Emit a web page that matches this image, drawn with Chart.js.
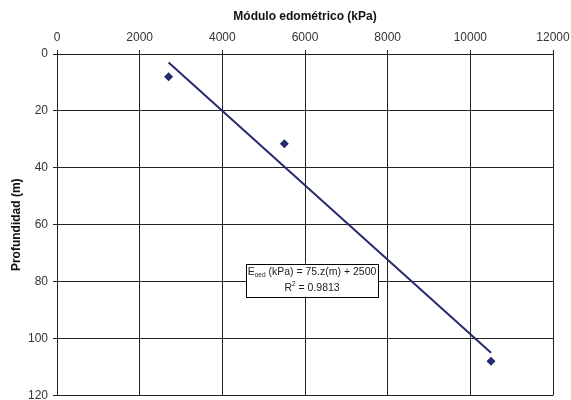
<!DOCTYPE html>
<html>
<head>
<meta charset="utf-8">
<script src="https://cdn.jsdelivr.net/npm/chart.js@4.4.0/dist/chart.umd.min.js"></script>
<style>
  html, body { margin: 0; padding: 0; background: #fff; }
</style>
</head>
<body>
<canvas id="grafico" width="571" height="400"></canvas>
<script>
// Datos
const modulo = [2700, 5500, 10500];        // kPa
const profundidad = [8, 31.5, 108];        // m
// Línea de tendencia (extremos)
const tendenciaE = [2700, 10500];
const tendenciaZ = [3, 105];
const ticksX = [0, 2000, 4000, 6000, 8000, 10000, 12000];
const ticksY = [0, 20, 40, 60, 80, 100, 120];
const ecuacion = ['75.z(m) + 2500', '0.9813'];

const colorSerie = '#262a6e';
const fuente = "'Liberation Sans', Arial, sans-serif";

// Cuadro con la ecuación de la tendencia
const cuadroEcuacion = {
    id: 'cuadroEcuacion',
    afterDraw(chart) {
        const ctx = chart.ctx;
        const cx = chart.scales.x.getPixelForValue(6170);
        const cy = chart.scales.y.getPixelForValue(79.5);
        const w = 132, h = 33;
        ctx.save();
        ctx.fillStyle = '#fff';
        ctx.fillRect(cx - w / 2, cy - h / 2, w, h);
        ctx.strokeStyle = '#000';
        ctx.lineWidth = 1;
        ctx.strokeRect(Math.round(cx - w / 2) + 0.5, Math.round(cy - h / 2) + 0.5, w, h);
        ctx.fillStyle = '#222';
        ctx.textBaseline = 'middle';
        // línea 1
        const f1 = '10.5px ' + fuente, f2 = '6.5px ' + fuente;
        ctx.font = f1;
        const a = 'E', c = ' (kPa) = ' + ecuacion[0];
        const wa = ctx.measureText(a).width, wc = ctx.measureText(c).width;
        ctx.font = f2;
        const wb = ctx.measureText('oed').width;
        let x = cx - (wa + wb + wc) / 2;
        const y1 = cy - 8;
        ctx.textAlign = 'left';
        ctx.font = f1; ctx.fillText(a, x, y1); x += wa;
        ctx.font = f2; ctx.fillText('oed', x, y1 + 3); x += wb;
        ctx.font = f1; ctx.fillText(c, x, y1);
        // línea 2
        const y2 = cy + 8;
        const r = 'R', d = ' = ' + ecuacion[1];
        const wr = ctx.measureText(r).width, wd = ctx.measureText(d).width;
        ctx.font = f2;
        const w2 = ctx.measureText('2').width;
        x = cx - (wr + w2 + wd) / 2;
        ctx.font = f1; ctx.fillText(r, x, y2); x += wr;
        ctx.font = f2; ctx.fillText('2', x, y2 - 4); x += w2;
        ctx.font = f1; ctx.fillText(d, x, y2);
        ctx.restore();
    }
};

const ctx = document.getElementById('grafico').getContext('2d');
const chart = new Chart(ctx, {
    type: 'scatter',
    data: {
        datasets: [{
            label: 'Datos',
            data: modulo.map(function (e, i) { return { x: e, y: profundidad[i] }; }),
            pointStyle: 'rectRot',
            pointRadius: 4.5,
            backgroundColor: colorSerie,
            borderColor: colorSerie,
            borderWidth: 0
        }, {
            label: 'Tendencia',
            type: 'line',
            data: tendenciaE.map(function (e, i) { return { x: e, y: tendenciaZ[i] }; }),
            borderColor: colorSerie,
            borderWidth: 2,
            pointRadius: 0,
            fill: false
        }]
    },
    options: {
        responsive: false,
        animation: false,
        layout: { padding: { left: 0, right: 18, top: 0, bottom: 4 } },
        plugins: {
            legend: { display: false },
            tooltip: { enabled: false }
        },
        scales: {
            x: {
                type: 'linear',
                position: 'top',
                min: 0, max: 12000,
                afterBuildTicks: function (s) { s.ticks = ticksX.map(function (v) { return { value: v }; }); },
                afterFit: function (s) { s.height = 54; s.paddingLeft = 0; s.paddingRight = 0; },
                ticks: {
                    color: '#333', font: { family: fuente, size: 12 }, padding: 5,
                    maxRotation: 0, autoSkip: false,
                    callback: function (v) { return String(v); }
                },
                grid: { color: '#222', lineWidth: 1, tickLength: 4, drawTicks: true },
                border: { color: '#222' },
                title: {
                    display: true,
                    text: 'Módulo edométrico (kPa)',
                    color: '#111',
                    font: { family: fuente, size: 12, weight: 'bold' },
                    padding: { top: 9, bottom: 0 }
                }
            },
            y: {
                type: 'linear',
                reverse: true,
                min: 0, max: 120,
                afterBuildTicks: function (s) { s.ticks = ticksY.map(function (v) { return { value: v }; }); },
                afterFit: function (s) { s.width = 57; s.paddingTop = 0; s.paddingBottom = 0; },
                ticks: {
                    color: '#333', font: { family: fuente, size: 12 }, padding: 5,
                    autoSkip: false,
                    callback: function (v) { return String(v); }
                },
                grid: { color: '#222', lineWidth: 1, tickLength: 4, drawTicks: true },
                border: { color: '#222' },
                title: {
                    display: true,
                    text: 'Profundidad (m)',
                    color: '#111',
                    font: { family: fuente, size: 12, weight: 'bold' },
                    padding: { top: 9, bottom: 0 }
                }
            }
        }
    },
    plugins: [cuadroEcuacion]
});
</script>
</body>
</html>
